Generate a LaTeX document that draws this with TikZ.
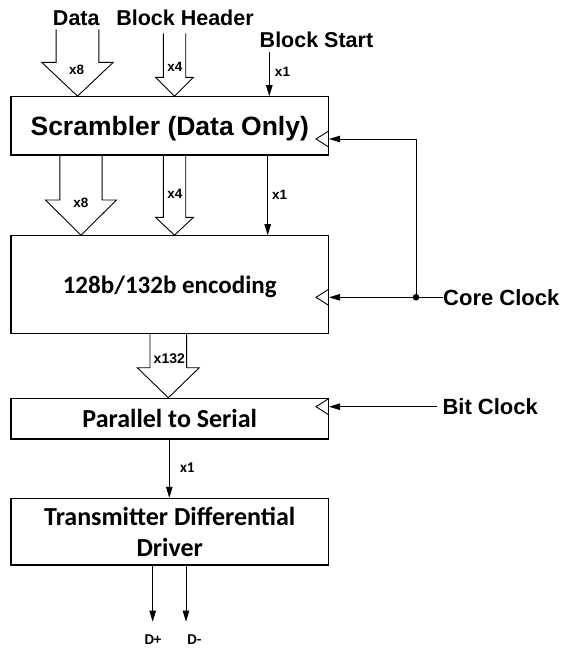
\documentclass[tikz,border=0pt]{standalone}
\usepackage{fontspec}
\setmainfont{Liberation Sans}
\newfontfamily\calibri{Carlito}
\usetikzlibrary{arrows.meta}

% wide bus arrow: centre x, shaft half width, head half width, start point, head y, target node
\newcommand*{\busarrow}[6]{%
	\draw[bus] (#1-#2,0 |- #4) -- (#1-#2,#5) -- (#1-#3,#5) -- (#1,0 |- #6.north)
		-- (#1+#3,#5) -- (#1+#2,#5) -- (#1+#2,0 |- #4);
}
% clock input mark on the right edge of a block
\newcommand*{\clkmark}[1]{%
	\draw[bus] ([yshift=8.3pt]#1) -- ([xshift=-13pt]#1) -- ([yshift=-8.3pt]#1);
}

\begin{document}
\begin{tikzpicture}
[
	x=1pt,y=-1pt,
	block/.style={draw,line width=1.1pt,minimum width=317.5pt,inner sep=0pt,text depth=0pt,align=center},
	bus/.style={line width=0.9pt},
	sig/.style={line width=0.9pt,-{Triangle[length=11pt,width=6.5pt]}},
	arial/.style={font=\fontsize{#1}{#1}\selectfont\bfseries},
	calib/.style={font=\calibri\fontsize{#1}{#1}\selectfont\bfseries},
	width/.style={arial=13.5,inner sep=0pt}
]
	\useasboundingbox (0,0) rectangle (564,651);

	% blocks
	\node[block,arial=26.5,minimum height=58.3pt] at (169.75,125.85) (scrambler) {Scrambler (Data Only)};
	\node[block,calib=25,minimum height=97.6pt] at (169.75,284.5) (encoder) {128b/132b encoding};
	\node[block,calib=26,minimum height=40.7pt] at (169.75,418.65) (serializer) {Parallel to Serial};
	\node[block,minimum height=66.7pt,font=\calibri\fontsize{26}{31}\selectfont\bfseries] at (169.75,531.65) (driver) {Transmitter Differential\\Driver};

	% inputs
	\node[arial=21.5,anchor=base] at (76.3,25.7) (data) {Data};
	\node[arial=21.5,anchor=base] at (185,25.7) (header) {Block Header};
	\node[arial=21.5,anchor=base] at (316.5,47) (blockstart) {Block Start};
	\coordinate (hdtop) at ([yshift=-4pt]header.south);
	\coordinate (bsin) at (269.3,52.3);

	\busarrow{77.5}{21.35}{35.8}{data.south}{62.3}{scrambler}
	\busarrow{174.5}{11.2}{19}{hdtop}{77.3}{scrambler}
	\draw[sig] (bsin) -- (bsin |- scrambler.north);
	\node[width] at (76.7,70) (w8a) {x8};
	\node[width] at (175,66.7) (w4a) {x4};
	\node[width] at (282.5,71.7) (w1a) {x1};

	% scrambler to encoder
	\busarrow{81}{21.15}{35.5}{scrambler.south}{200}{encoder}
	\busarrow{174.5}{11.2}{19}{scrambler.south}{217.3}{encoder}
	\draw[sig] (267.7,0 |- scrambler.south) -- (267.7,0 |- encoder.north);
	\node[width] at (81,203) (w8b) {x8};
	\node[width] at (175,194) (w4b) {x4};
	\node[width] at (279.7,195) (w1b) {x1};

	% encoder to serializer
	\busarrow{168.3}{18.35}{31}{encoder.south}{367.7}{serializer}
	\node[arial=14,inner sep=0pt] at (169.3,358.3) (w132) {x132};

	% serializer to driver
	\draw[sig] (169.3,0 |- serializer.south) -- (169.3,0 |- driver.north);
	\node[calib=15,inner sep=0pt] at (187.3,467.7) (w1c) {x1};

	% clocks
	\node[arial=22,anchor=west,inner sep=0pt] at (443,297.3) (coreclk) {Core Clock};
	\node[arial=22,anchor=west,inner sep=0pt,inner xsep=5.6pt] at (436.7,406.7) (bitclk) {Bit Clock};
	\coordinate (sclk) at (scrambler.east |- 0,139);
	\coordinate (eclk) at (encoder.east |- coreclk.west);
	\coordinate (bclk) at (serializer.east |- bitclk.west);
	\coordinate (tap) at (416,0 |- coreclk.west);
	\clkmark{sclk}
	\clkmark{eclk}
	\clkmark{bclk}
	\draw[sig] (coreclk.west) -- (eclk);
	\draw[sig] (tap) |- (sclk);
	\fill (tap) circle (3.3pt);
	\draw[sig] (bitclk.west) -- (bclk);

	% outputs
	\coordinate (dp) at (152.7,621.7);
	\coordinate (dm) at (186,621.7);
	\draw[sig] (dp |- driver.south) -- (dp);
	\draw[sig] (dm |- driver.south) -- (dm);
	\node[calib=15,inner sep=0pt] at (153,639.7) (dplus) {D+};
	\node[calib=15,inner sep=0pt] at (194.5,639.7) (dminus) {D-};

\end{tikzpicture}
\end{document}
